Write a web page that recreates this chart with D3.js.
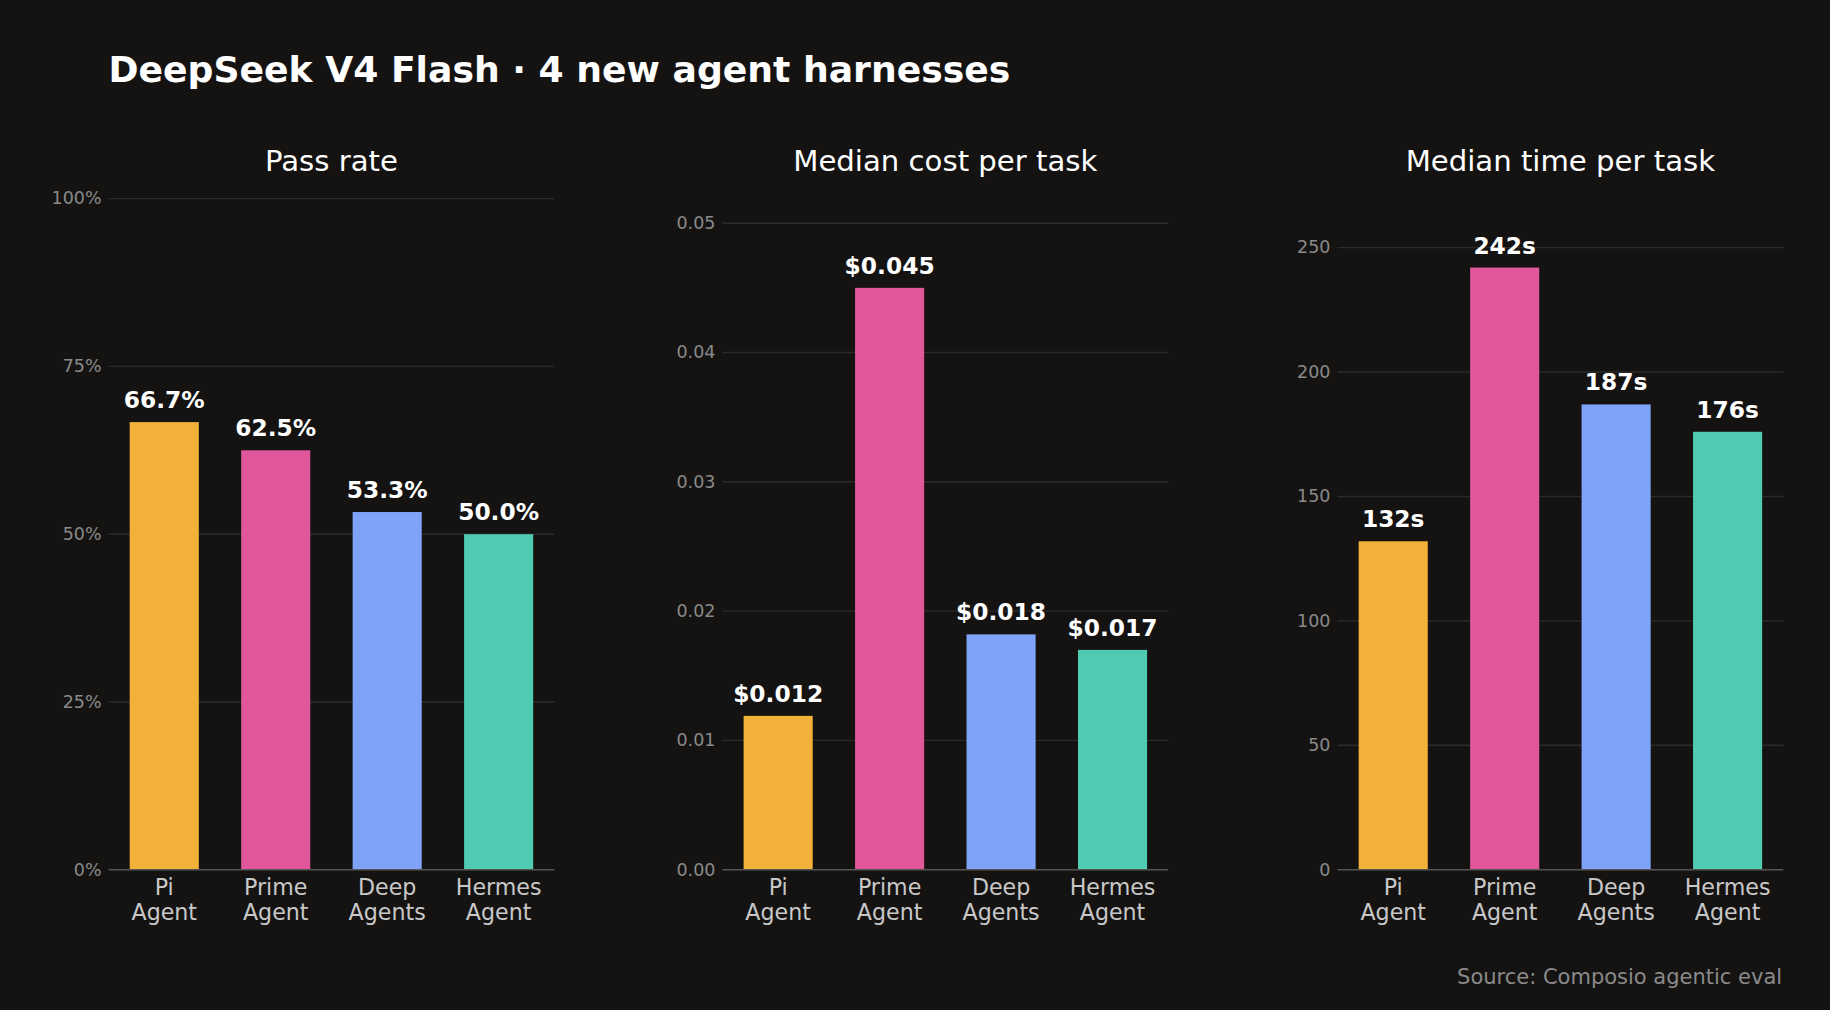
<!DOCTYPE html>
<html>
<head>
<title>DeepSeek V4 Flash</title>
<script src="https://cdn.jsdelivr.net/npm/d3@7"></script>
<style>
body { margin: 0; background: #141312; }
svg text { font-family: "DejaVu Sans", sans-serif; }
</style>
</head>
<body>
<svg id="chart" width="1830" height="1010" viewBox="0 0 1568 865"></svg>
<script>
var agents = [["Pi", "Agent"], ["Prime", "Agent"], ["Deep", "Agents"], ["Hermes", "Agent"]];
var colors = ["#F2B138", "#E0589B", "#7EA3F8", "#4FCBB1"];
var passRate = [66.7, 62.5, 53.3, 50.0];
var medianCost = [0.0119, 0.0450, 0.0182, 0.0170];
var medianTime = [132, 242, 187, 176];
var passTicks = [0, 25, 50, 75, 100];
var costTicks = [0, 0.01, 0.02, 0.03, 0.04, 0.05];
var timeTicks = [0, 50, 100, 150, 200, 250];

var panels = [
  { title: "Pass rate", x0: 93, vals: passRate, max: 100, ticks: passTicks,
    tf: function(d){ return d + "%"; }, lf: function(d){ return d.toFixed(1) + "%"; } },
  { title: "Median cost per task", x0: 619, vals: medianCost, max: 0.0519, ticks: costTicks,
    tf: function(d){ return d.toFixed(2); }, lf: function(d){ return "$" + d.toFixed(3); } },
  { title: "Median time per task", x0: 1146, vals: medianTime, max: 269.7, ticks: timeTicks,
    tf: function(d){ return d; }, lf: function(d){ return d + "s"; } }
];

var svg = d3.select("#chart");
svg.append("rect").attr("width", 1568).attr("height", 865).attr("fill", "#141312");
svg.append("text").attr("x", 93).attr("y", 70).attr("fill", "#fff")
  .attr("font-size", 31).attr("font-weight", "bold")
  .text("DeepSeek V4 Flash \u00b7 4 new agent harnesses");
svg.append("text").attr("x", 1527).attr("y", 843).attr("text-anchor", "end")
  .attr("fill", "#8a8a8a").attr("font-size", 18).text("Source: Composio agentic eval");

var plotTop = 170, plotBottom = 745, w = 382;

panels.forEach(function(p) {
  var g = svg.append("g");
  var x = d3.scaleBand().domain(d3.range(4)).range([p.x0, p.x0 + w])
    .paddingInner(0.38).paddingOuter(0.19);
  var y = d3.scaleLinear().domain([0, p.max]).range([plotBottom, plotTop]);

  g.append("text").attr("x", p.x0 + w / 2).attr("y", 146).attr("text-anchor", "middle")
    .attr("fill", "#fff").attr("font-size", 25).text(p.title);

  g.selectAll(".grid").data(p.ticks.filter(function(t){ return t > 0; })).enter().append("line")
    .attr("x1", p.x0).attr("x2", p.x0 + w)
    .attr("y1", function(d){ return y(d); }).attr("y2", function(d){ return y(d); })
    .attr("stroke", "#2c2b2a").attr("stroke-width", 1.2);

  g.selectAll(".tick").data(p.ticks).enter().append("text")
    .attr("x", p.x0 - 6).attr("y", function(d){ return y(d) + 5; })
    .attr("text-anchor", "end").attr("fill", "#8a8a8a").attr("font-size", 15)
    .text(p.tf);

  g.selectAll(".bar").data(p.vals).enter().append("rect")
    .attr("x", function(d, i){ return x(i); }).attr("width", x.bandwidth())
    .attr("y", function(d){ return y(d); }).attr("height", function(d){ return plotBottom - y(d); })
    .attr("fill", function(d, i){ return colors[i]; });

  g.append("line").attr("x1", p.x0).attr("x2", p.x0 + w).attr("y1", plotBottom).attr("y2", plotBottom)
    .attr("stroke", "#555").attr("stroke-width", 1.2);

  g.selectAll(".val").data(p.vals).enter().append("text")
    .attr("x", function(d, i){ return x(i) + x.bandwidth() / 2; })
    .attr("y", function(d){ return y(d) - 12; })
    .attr("text-anchor", "middle").attr("fill", "#fff").attr("font-size", 20)
    .attr("font-weight", "bold").text(p.lf);

  var cat = g.selectAll(".cat").data(agents).enter().append("text")
    .attr("text-anchor", "middle").attr("fill", "#c8c8c8").attr("font-size", 19);
  cat.append("tspan").attr("x", function(d, i){ return x(i) + x.bandwidth() / 2; })
    .attr("y", 767).text(function(d){ return d[0]; });
  cat.append("tspan").attr("x", function(d, i){ return x(i) + x.bandwidth() / 2; })
    .attr("y", 788).text(function(d){ return d[1]; });
});
</script>
</body>
</html>
